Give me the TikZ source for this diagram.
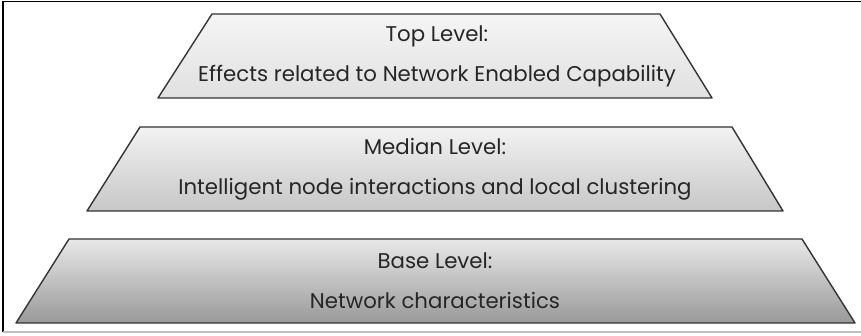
\documentclass[tikz,border=0pt]{standalone}
\usepackage{fontspec}
\setmainfont{Poppins}
\tikzset{niveau/.style={draw=black!80, line width=1.4pt, line join=round},
    etiquette/.style={align=center, font=\fontsize{21.3}{40}\selectfont, text=black!85}}
\definecolor{framegray}{RGB}{190,190,190}

\begin{document}
\begin{tikzpicture}[x=1pt, y=-1pt]
    \useasboundingbox (0,0) rectangle (861,336);
    % frame
    \draw[line width=1.2pt] (861,1.5) -- (3,1.5) -- (3,332);
    \draw[framegray, line width=1.2pt] (3,332) -- (861,332);

    % levels
    \draw[niveau, top color=white!96!black, bottom color=black!12]
        (158,98) -- (212,14) -- (660,14) -- (712,98) -- cycle;
    \draw[niveau, top color=black!5, bottom color=black!22]
        (87,211) -- (140,127) -- (732,127) -- (783,211) -- cycle;
    \draw[niveau, top color=black!9, bottom color=black!40]
        (16,323) -- (69,239) -- (802,239) -- (855,323) -- cycle;

    \node[etiquette] (top) at (437,56) {Top Level:\\Effects related to Network Enabled Capability};
    \node[etiquette] (median) at (435,169) {Median Level:\\Intelligent node interactions and local clustering};
    \node[etiquette] (base) at (435,281) {Base Level:\\Network characteristics};
\end{tikzpicture}
\end{document}
